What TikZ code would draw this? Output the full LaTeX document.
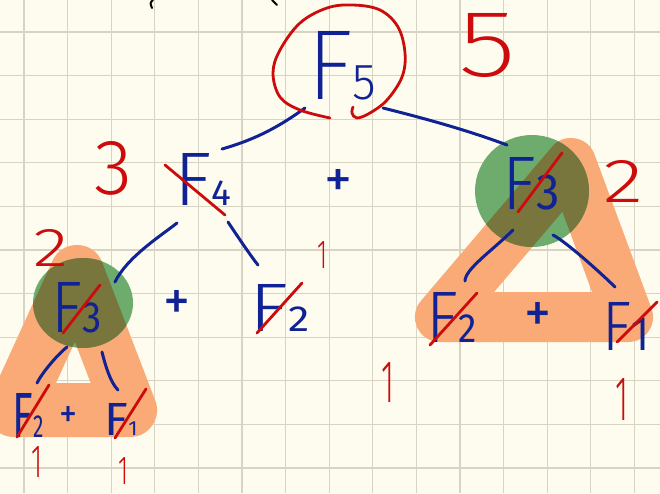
\documentclass[tikz,border=0pt]{standalone}
\usepackage{fontspec}
\setmainfont{Fira Sans Light}
\newfontfamily\fxl{Fira Sans ExtraLight}
\newfontfamily\flt{Fira Sans Light}
\newfontfamily\frg{Fira Sans}
\usepackage{graphicx}
\usetikzlibrary{calc}
\definecolor{paper}{RGB}{253,252,238}
\definecolor{gridc}{RGB}{216,212,196}
\definecolor{ink}{RGB}{16,34,148}
\definecolor{redink}{RGB}{204,12,12}
\definecolor{hlorange}{RGB}{249,170,118}
\definecolor{hlgreen}{RGB}{110,172,110}
\definecolor{hlolive}{RGB}{120,118,60}
% width, height, font of F, size of digit, font of digit, digit
\newcommand\Fnum[6]{\resizebox{#1pt}{#2pt}{#3F\fontsize{#4}{#4}\selectfont#5#6}}
\newcommand\Sized[3]{\resizebox{#1pt}{#2pt}{#3}}
\tikzset{
  gridline/.style={draw=gridc, line width=1.1pt},
  fnode/.style={inner sep=0pt, text=ink},
  rnum/.style={inner sep=0pt, text=redink},
  plusnode/.style={inner sep=0pt, text=ink, font=\frg},
  conn/.style={draw=ink, line width=3pt, line cap=round},
  strike/.style={draw=redink, line width=2.8pt, line cap=round},
  hlr/.style={line width=50pt, line join=round, line cap=round},
  hll/.style={line width=54pt, line join=round, line cap=round},
}
\begin{document}
\begin{tikzpicture}[x=1pt, y=-1pt]
\useasboundingbox (0,0) rectangle (660,493);
\clip (0,0) rectangle (660,493);
\fill[paper] (0,0) rectangle (660,493);
\foreach \i in {0,...,14} \draw[gridline] ({24+43.6*\i},0) -- ({24+43.6*\i},493);
\foreach \j in {0,...,10} \draw[gridline] (0,{32+43.6*\j}) -- (660,{32+43.6*\j});

% highlights
\draw[hlr, draw=hlorange] (571,163) -- (440,317) -- (628,317) -- cycle;
\draw[hll, draw=hlorange] (77,272) -- (14,410) -- (130,410) -- cycle;
\fill[hlgreen] (532,191) ellipse [x radius=57, y radius=56];
\fill[hlgreen] (83,303) ellipse [x radius=50, y radius=45];
\begin{scope}
  \clip (532,191) ellipse [x radius=57, y radius=56];
  \draw[hlr, draw=hlolive] (571,163) -- (440,317) -- (628,317) -- cycle;
\end{scope}
\begin{scope}
  \clip (83,303) ellipse [x radius=50, y radius=45];
  \draw[hll, draw=hlolive] (77,272) -- (14,410) -- (130,410) -- cycle;
\end{scope}

% black fragments at the top edge
\draw[black, line width=2pt, line cap=round] (153,0) .. controls (150,3) .. (152,8);
\draw[black, line width=2pt, line cap=round] (272,0) -- (277,5);

% nodes
\node[fnode] (f5)   at (342,66)  {\Fnum{69}{68}{\fxl}{5.1}{\flt}{5}};
\node[fnode] (f4)   at (203,179) {\Fnum{57}{52}{\flt}{4.8}{\frg}{4}};
\node[fnode] (f3r)  at (531,184) {\Fnum{57}{52}{\flt}{6.7}{\frg}{3}};
\node[fnode] (f3l)  at (77,308)  {\Fnum{50}{50}{\flt}{6}{\frg}{3}};
\node[fnode] (f2m)  at (280,308) {\Fnum{60}{47}{\flt}{5.3}{\frg}{2}};
\node[fnode] (f2r)  at (452,317) {\Fnum{50}{50}{\flt}{5.6}{\frg}{2}};
\node[fnode] (f1r)  at (626,326) {\Fnum{47}{48}{\flt}{6.9}{\frg}{1}};
\node[fnode] (f2bl) at (28,415)  {\Fnum{31}{44}{\frg}{5}{\frg}{2}};
\node[fnode] (f1bl) at (121,419) {\Fnum{33}{32}{\frg}{4.4}{\frg}{1}};

\node[plusnode] (p1) at (338,183) {\Sized{28}{28}{+}};
\node[plusnode] (p2) at (177,305) {\Sized{27}{30}{+}};
\node[plusnode] (p3) at (538,317) {\Sized{27}{30}{+}};
\node[plusnode] (p4) at (69,417)  {\Sized{18}{21}{+}};

\node[rnum, font=\fxl] (n5)  at (488,46)  {\Sized{58}{63}{5}};
\node[rnum, font=\flt] (n3)  at (114,168) {\Sized{38}{53}{3}};
\node[rnum, font=\flt] (n2l) at (51,248)  {\Sized{35}{37}{2}};
\node[rnum, font=\flt] (n2r) at (623,181) {\Sized{40}{42}{2}};
\node[rnum, font=\flt] (n1m) at (322,255) {\Sized{10}{27}{1}};
\node[rnum, font=\flt] (n1a) at (388,382) {\Sized{13}{40}{1}};
\node[rnum, font=\flt] (n1b) at (622,399) {\Sized{13}{42}{1}};
\node[rnum, font=\flt] (n1c) at (37,462)  {\Sized{11}{31}{1}};
\node[rnum, font=\flt] (n1d) at (123,471) {\Sized{10}{27}{1}};

% connectors
\draw[conn] ($(f5)+(-37,42)$) .. controls +(-25,18) and +(35,-10) .. ($(f4)+(19,-30)$);
\draw[conn] ($(f5)+(41,42)$) .. controls +(40,10) and +(-40,-15) .. ($(f3r)+(-24,-39)$);
\draw[conn] ($(f4)+(-26,44)$) .. controls +(-15,12) and +(12,-25) .. ($(f3l)+(38,-26)$);
\draw[conn] ($(f4)+(25,43)$) .. controls +(8,12) and +(-8,-10) .. ($(f2m)+(-22,-43)$);
\draw[conn] ($(f3r)+(-18,46)$) .. controls +(-20,20) and +(0,-12) .. ($(f2r)+(13,-36)$);
\draw[conn] ($(f3r)+(22,51)$) .. controls +(15,8) and +(-10,-10) .. ($(f1r)+(-11,-39)$);
\draw[conn] ($(f3l)+(-10,39)$) .. controls +(-10,8) and +(5,-10) .. ($(f2bl)+(9,-32)$);
\draw[conn] ($(f3l)+(25,44)$) .. controls +(3,12) and +(-8,-8) .. ($(f1bl)+(-3,-29)$);

% red strike-throughs
\draw[strike] ($(f4)+(-38,-14)$) -- ($(f4)+(22,36)$);
\draw[strike] ($(f3r)+(-13,28)$) -- ($(f3r)+(31,-31)$);
\draw[strike] ($(f3l)+(-14,25)$) -- ($(f3l)+(23,-23)$);
\draw[strike] ($(f2m)+(-23,25)$) -- ($(f2m)+(22,-25)$);
\draw[strike] ($(f2r)+(-22,28)$) -- ($(f2r)+(25,-24)$);
\draw[strike] ($(f1r)+(-9,16)$) -- ($(f1r)+(31,-24)$);
\draw[strike] ($(f2bl)+(-11,22)$) -- ($(f2bl)+(21,-30)$);
\draw[strike] ($(f1bl)+(-6,19)$) -- ($(f1bl)+(25,-30)$);

% red loop round F5
\draw[redink, line width=2.8pt, line cap=round] plot[smooth, tension=0.6] coordinates {
  (330,118) (300,110) (280,97) (273,73) (280,50) (300,23) (327,8) (353,5)
  (380,10) (398,27) (405,53) (402,77) (387,100) (370,113) (357,118) (352,113) (353,107)};
\end{tikzpicture}
\end{document}
